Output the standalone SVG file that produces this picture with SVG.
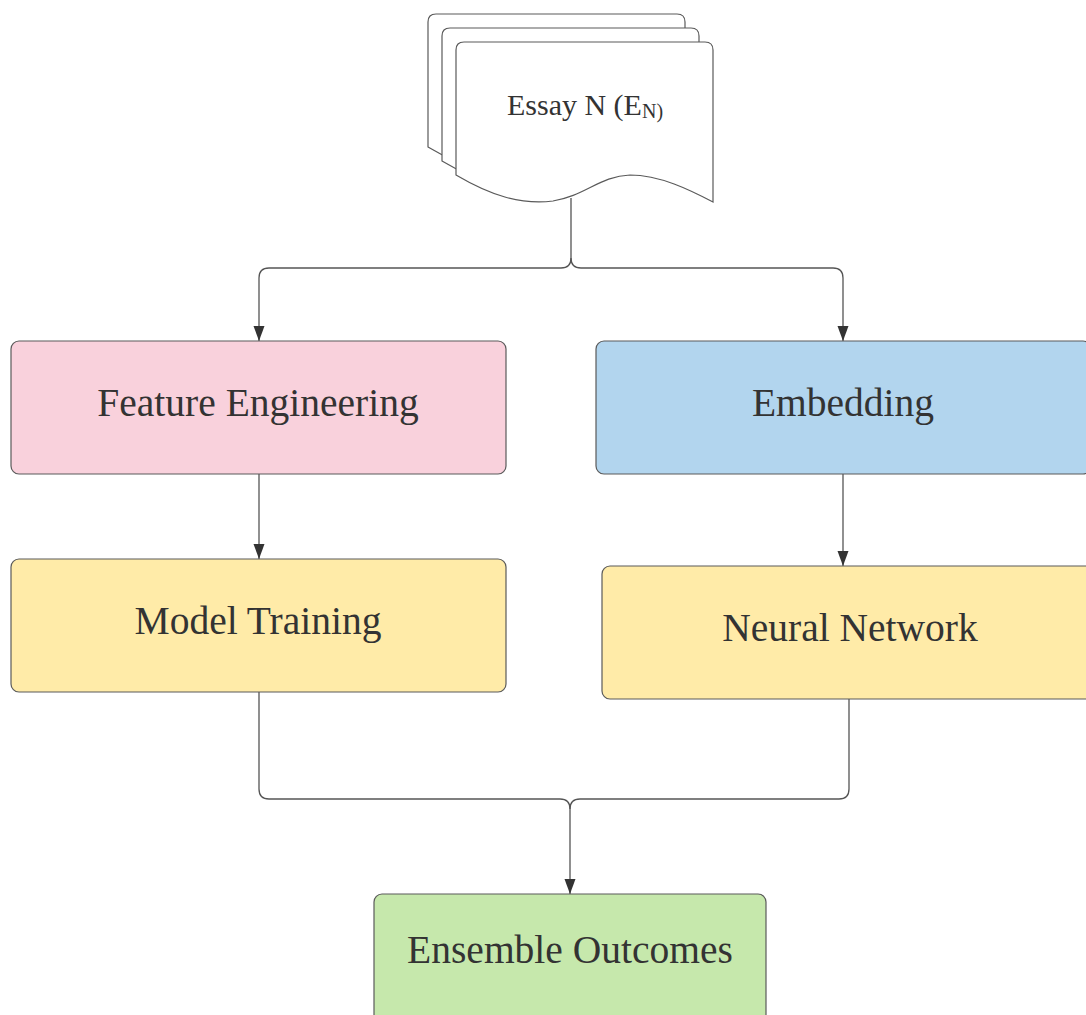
<svg xmlns="http://www.w3.org/2000/svg" width="1086" height="1015" viewBox="0 0 1086 1015">
  <style>
    .box { stroke: #5a5a5a; stroke-width: 1.2; }
    .doc { fill: #ffffff; stroke: #5a5a5a; stroke-width: 1.2; }
    .lbl { font-family: "Liberation Serif", "Times New Roman", serif; fill: #333333; text-anchor: middle; }
    .big { font-size: 39.5px; }
    .conn { fill: none; stroke: #555555; stroke-width: 1.3; }
  </style>
  <defs>
    <marker id="arr" markerUnits="userSpaceOnUse" markerWidth="15" markerHeight="12" refX="15" refY="6" orient="auto">
      <path d="M0,0.5 L15,6 L0,11.5 Z" fill="#333333"/>
    </marker>
    <path id="docshape" d="M0,8 Q0,0 8,0 L249,0 Q257,0 257,8 L257,160 C234,148 204,133 174,133 C144,134 129,154 97,159 C64,163 34,153 0,133 Z"/>
  </defs>
  <rect width="1086" height="1015" fill="#ffffff"/>

  <g id="connectors">
    <path class="conn" d="M571,198 L571,258 Q571,268 561,268 L269,268 Q259,268 259,278 L259,341" marker-end="url(#arr)"/>
    <path class="conn" d="M571,258 Q571,268 581,268 L833,268 Q843,268 843,278 L843,341" marker-end="url(#arr)"/>
    <path class="conn" d="M259,474 L259,559" marker-end="url(#arr)"/>
    <path class="conn" d="M843,474 L843,566" marker-end="url(#arr)"/>
    <path class="conn" d="M259,692 L259,789 Q259,799 269,799 L560,799 Q570,799 570,809 L570,894" marker-end="url(#arr)"/>
    <path class="conn" d="M849,699 L849,789 Q849,799 839,799 L580,799 Q570,799 570,809"/>
  </g>

  <g id="essay">
    <use href="#docshape" class="doc" x="428" y="14"/>
    <use href="#docshape" class="doc" x="442" y="28"/>
    <use href="#docshape" class="doc" x="456" y="42"/>
    <text class="lbl" x="585" y="115" style="font-size:30px">Essay N (E<tspan font-size="20" dy="3">N)</tspan></text>
  </g>

  <g id="feature-engineering">
    <rect class="box" x="11" y="341" width="495" height="133" rx="8" fill="#F9D1DC"/>
    <text class="lbl big" x="258" y="416">Feature Engineering</text>
  </g>

  <g id="embedding">
    <rect class="box" x="596" y="341" width="495" height="133" rx="8" fill="#B2D5EE"/>
    <text class="lbl big" x="843" y="416">Embedding</text>
  </g>

  <g id="model-training">
    <rect class="box" x="11" y="559" width="495" height="133" rx="8" fill="#FFEBA8"/>
    <text class="lbl big" x="258" y="634">Model Training</text>
  </g>

  <g id="neural-network">
    <rect class="box" x="602" y="566" width="495" height="133" rx="8" fill="#FFEBA8"/>
    <text class="lbl big" x="850" y="641">Neural Network</text>
  </g>

  <g id="ensemble-outcomes">
    <rect class="box" x="374" y="894" width="392" height="133" rx="8" fill="#C6E8AC"/>
    <text class="lbl big" x="570" y="963">Ensemble Outcomes</text>
  </g>
</svg>
